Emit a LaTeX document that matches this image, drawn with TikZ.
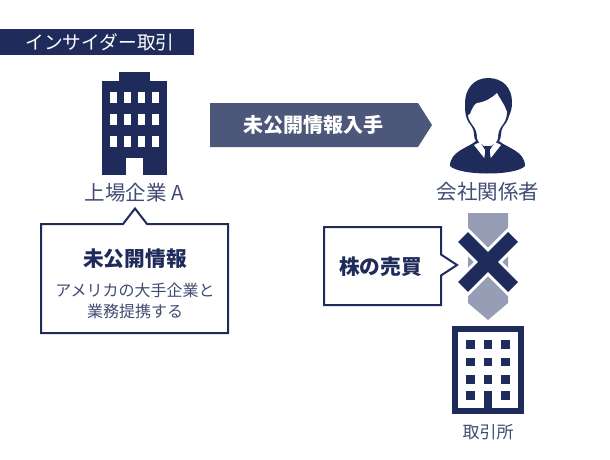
\documentclass[tikz,border=0pt]{standalone}
\usepackage{fontspec}
\setmainfont{Noto Sans CJK JP}
\usepackage{xcolor}
\usetikzlibrary{positioning}
\definecolor{navy}{HTML}{1F2B5B}
\definecolor{slate}{HTML}{4D5779}
\definecolor{haze}{HTML}{979DB4}
\begin{document}
\begin{tikzpicture}[
    x=1pt, y=-1pt,
    solid/.style={fill=navy, draw=none, inner sep=0pt},
    pane/.style={fill=white, inner sep=0pt},
    caption/.style={text=navy!85, inner sep=0pt, font=\fontsize{20.5}{24}\selectfont},
    headline/.style={text=navy, inner sep=0pt, font=\bfseries\fontsize{20.7}{24}\selectfont},
    note/.style={text=navy!85, inner sep=0pt, align=center, font=\fontsize{16}{21}\selectfont},
    balloon/.style={draw=navy, line width=2pt, fill=white, line join=miter}
]
\useasboundingbox (0,0) rectangle (610,460);

% Title
\node[solid, anchor=north west, minimum width=194pt, minimum height=26pt] (titlebar) at (0,29) {};
\node[text=white, inner sep=0pt, font=\fontsize{18.7}{22}\selectfont] (title) at (100,42) {インサイダー取引};

% Listed company
\node[solid, anchor=north west, minimum width=65pt, minimum height=94pt] (towera) at (102,81) {};
\node[solid, minimum width=31pt, minimum height=9.5pt, above=-0.5pt of towera] (roofa) {};
\foreach \wx/\wn in {110/1,124/2,138/3,151.5/4}
  \foreach \wy/\wm in {92/1,114/2,136/3}
    \node[pane, anchor=north west, minimum width=7pt, minimum height=11pt] (wina\wn\wm) at (\wx,\wy) {};
\node[pane, anchor=north west, minimum width=17pt, minimum height=17pt] (doora) at (126,158) {};
\node[caption] (labela) at (134.5,193) {上場企業 A};

% Callout of the company
\draw[balloon] (41,224) -- (123,224) -- (135,208.5) -- (147,224) -- (228,224) -- (228,333) -- (41,333) -- cycle;
\node[headline] (secret) at (135,259) {未公開情報};
\node[note] (secretnote) at (135,300.5) {アメリカの大手企業と\\業務提携する};

% Arrow
\fill[slate] (210,103) -- (418,103) -- (432,125) -- (418,147) -- (210,147) -- cycle;
\node[text=white, inner sep=0pt, font=\bfseries\fontsize{20}{24}\selectfont] (obtain) at (313.5,125) {未公開情報入手};

% Person
\fill[navy] (488,78) .. controls (473,78) and (465,90) .. (465,103)
  .. controls (465,108) and (465,112) .. (466,116)
  .. controls (467,121) and (470,124) .. (472,127)
  .. controls (475,131) and (473,138) .. (476,141)
  .. controls (468,148) and (450,151) .. (450,166)
  .. controls (460,176) and (516,176) .. (525,166)
  .. controls (525,151) and (507,148) .. (499,141)
  .. controls (502,138) and (500,131) .. (503,127)
  .. controls (505,124) and (508,121) .. (509,116)
  .. controls (511,112) and (512,108) .. (512,102)
  .. controls (512,88) and (503,78) .. (488,78) -- cycle;
\fill[white] (470,114) .. controls (473,106) and (475,104) .. (477,103)
  .. controls (485,102) and (492,98) .. (497,93)
  .. controls (500,99) and (505,105) .. (507,112)
  .. controls (507,119) and (504,123) .. (501,127)
  .. controls (497,132) and (499,138) .. (497,141)
  -- (491,146) -- (484,146) -- (478,141)
  .. controls (476,138) and (478,132) .. (474,127)
  .. controls (471,123) and (468,119) .. (468,115) -- cycle;
\fill[white] (474,145) -- (480,142) -- (485,150) -- (485,159) -- cycle;
\fill[white] (501,145) -- (495,142) -- (490,150) -- (490,159) -- cycle;
\fill[navy] (484.5,146) -- (490.5,146) -- (489.5,150) -- (491,160) -- (487.5,166) -- (484,160) -- (485.5,150) -- cycle;
\node[caption] (labelb) at (488,192) {会社関係者};

% Crossed out trade
\fill[haze] (468,213) -- (508,213) -- (508,303) -- (488,320) -- (468,303) -- cycle;
\draw[white, line width=20pt] (460,234) -- (516,290) (516,234) -- (460,290);
\draw[navy, line width=14pt] (463,237) -- (513,287) (513,237) -- (463,287);

% Callout of the trade
\draw[balloon] (324,227) -- (441,227) -- (441,254.5) -- (457,265) -- (441,275.5) -- (441,305) -- (324,305) -- cycle;
\node[headline] (trade) at (380.5,267) {株の売買};

% Exchange
\node[solid, anchor=north west, minimum width=72pt, minimum height=88pt] (towerb) at (451.5,326) {};
\node[pane, anchor=north west, minimum width=60.5pt, minimum height=76pt] (hallb) at (457.5,332) {};
\foreach \wx/\wn in {466/1,483.5/2,501/3}
  \foreach \wy/\wm in {340/1,357.5/2,375/3,391/4}
    \node[solid, anchor=north west, minimum width=8.5pt, minimum height=8.5pt] (winb\wn\wm) at (\wx,\wy) {};
\node[solid, anchor=north west, minimum width=8.5pt, minimum height=17pt] (doorb) at (483.5,391) {};
\node[caption, font=\fontsize{17}{21}\selectfont] (labelc) at (488,432) {取引所};

\end{tikzpicture}
\end{document}
